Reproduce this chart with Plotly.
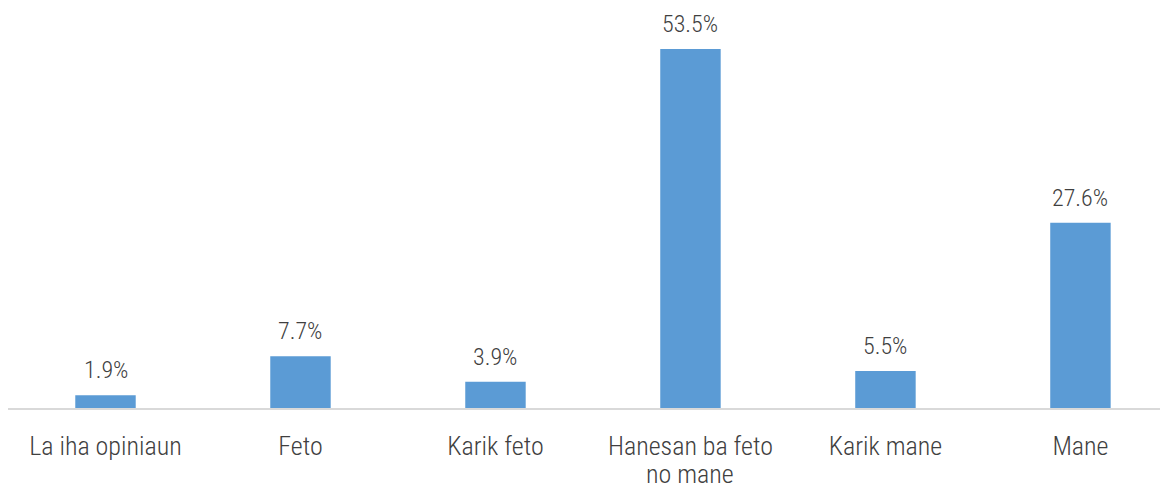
import plotly.graph_objects as go

categories = ["La iha opiniaun", "Feto", "Karik feto", "Hanesan ba feto", "Karik mane", "Mane"]
category_line2 = ["", "", "", "no mane", "", ""]
values = [1.9, 7.7, 3.9, 53.5, 5.5, 27.6]
labels = ["1.9%", "7.7%", "3.9%", "53.5%", "5.5%", "27.6%"]

FONT = "Roboto Condensed, Liberation Sans Narrow, Arial Narrow, sans-serif"
TXT = "#404040"

fig = go.Figure()
fig.add_trace(go.Bar(
    x=list(range(len(categories))),
    y=values,
    marker=dict(color="#5B9BD5", line=dict(width=0)),
    width=0.31,
    hoverinfo="skip",
))

for i, (v, t) in enumerate(zip(values, labels)):
    fig.add_annotation(x=i, y=v, text=t, showarrow=False, yanchor="bottom",
                       yshift=9, font=dict(family=FONT, size=24, color=TXT, weight=300))

for i, t in enumerate(category_line2):
    if t:
        fig.add_annotation(x=i, xref="x", y=0, yref="paper", text=t, showarrow=False,
                           yanchor="top", yshift=-50, borderpad=0,
                           font=dict(family=FONT, size=26, color=TXT, weight=300))

# page body has an 8px margin, so the figure is offset by 8px from the page origin
fig.update_layout(
    width=1160, height=477,
    margin=dict(l=0, r=0, t=0, b=77, pad=0),
    paper_bgcolor="white", plot_bgcolor="white",
    showlegend=False,
    xaxis=dict(
        tickmode="array", tickvals=list(range(len(categories))), ticktext=categories,
        range=[-0.5, 5.449], showgrid=False, zeroline=False, automargin=False,
        showline=True, linecolor="#D9D9D9", linewidth=2,
        ticks="outside", ticklen=14, tickcolor="rgba(0,0,0,0)",
        tickfont=dict(family=FONT, size=26, color=TXT, weight=300),
        fixedrange=True,
    ),
    yaxis=dict(range=[0, 59.6], visible=False, showgrid=False, zeroline=False,
               automargin=False, fixedrange=True),
)

fig.write_html("out.html")
